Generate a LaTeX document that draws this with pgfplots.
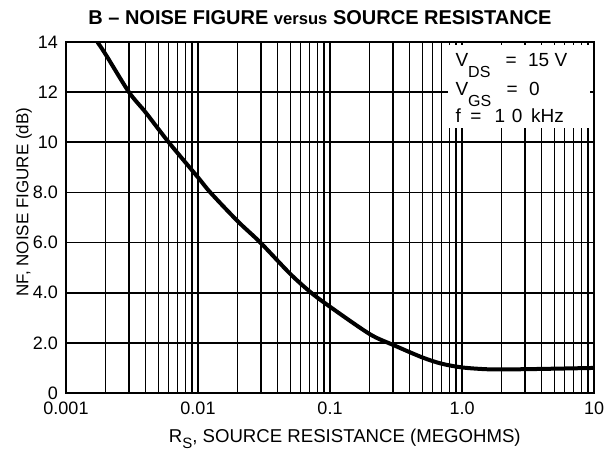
\documentclass[border=0pt]{standalone}
\usepackage{fontspec}
\setmainfont{Liberation Sans}
\usepackage{pgfplots}
\pgfplotsset{compat=1.18}

\begin{document}
\begin{tikzpicture}
% picture frame: 613x450 px at 2 px per pt
\path[use as bounding box] (-33pt,-28.5pt) rectangle (273.5pt,196.5pt);
\begin{semilogxaxis}[
  at={(0,0)}, anchor=south west,
  scale only axis,
  width=264pt, height=175.5pt,
  xmin=0.001, xmax=10, ymin=0, ymax=14,
  xtick={0.001,0.01,0.1,1,10},
  xticklabels={0.001,0.01,0.1,1.0,10},
  ytick={0,2,4,6,8,10,12,14},
  yticklabels={0,2.0,4.0,6.0,8.0,10,12,14},
  /pgf/number format/assume math mode=true,
  tick label style={font=\fontsize{9}{9}\selectfont},
  yticklabel style={xshift=-0.5pt},
  xticklabel style={yshift=-1pt},
  major tick length=0pt, minor tick length=0pt,
  grid=both,
  major grid style={black, line width=0.8pt},
  minor grid style={black, line width=0.7pt},
  axis line style={black, line width=1.1pt},
  title={\bfseries B -- NOISE FIGURE {\fontsize{8.3}{9}\selectfont versus} SOURCE RESISTANCE},
  title style={font=\fontsize{10}{11}\selectfont, at={(0.481,1)}, anchor=base, yshift=2.5pt},
  xlabel={R\raisebox{-0.7ex}{\fontsize{7.5}{8}\selectfont S}, SOURCE RESISTANCE (MEGOHMS)},
  ylabel={NF, NOISE FIGURE (dB)},
  label style={font=\fontsize{9.3}{10}\selectfont},
  xlabel style={at={(0.528,0)}, anchor=base, yshift=-24.5pt},
  ylabel style={at={(-0.0795,0.544)}, anchor=center, font=\fontsize{8.5}{9}\selectfont},
]
\fill[white] (rel axis cs:0.723,0.755) rectangle (rel axis cs:0.992,0.991);
\addplot[black, line width=2pt, smooth] coordinates {
  (0.00173,14) (0.002,13.5) (0.003,12.0) (0.004,11.2) (0.006,10.0)
  (0.01,8.6) (0.0124,8.0) (0.02,6.85) (0.0297,6.0) (0.05,4.75) (0.072,4.0)
  (0.1,3.44) (0.2,2.35) (0.3,1.92) (0.5,1.42) (0.7,1.17) (1.0,1.02)
  (1.5,0.95) (2,0.94) (3,0.95) (5,0.97) (10,1.0)
};
\node[anchor=base west, inner sep=0pt, font=\fontsize{9.5}{10}\selectfont] at (rel axis cs:0.737,0.929)
  {V\raisebox{-5.5pt}{\fontsize{8}{8}\selectfont DS}\hspace{0.8em}=\hspace{0.6em}15 V};
\node[anchor=base west, inner sep=0pt, font=\fontsize{9.5}{10}\selectfont] at (rel axis cs:0.737,0.849)
  {V\raisebox{-5.5pt}{\fontsize{8}{8}\selectfont GS}\hspace{0.8em}=\hspace{0.6em}0};
\node[anchor=base west, inner sep=0pt, font=\fontsize{9.5}{10}\selectfont] at (rel axis cs:0.737,0.772)
  {f\hspace{0.5em}=\hspace{0.7em}1\hspace{0.35em}0\hspace{0.45em}kHz};
\end{semilogxaxis}
\end{tikzpicture}
\end{document}
